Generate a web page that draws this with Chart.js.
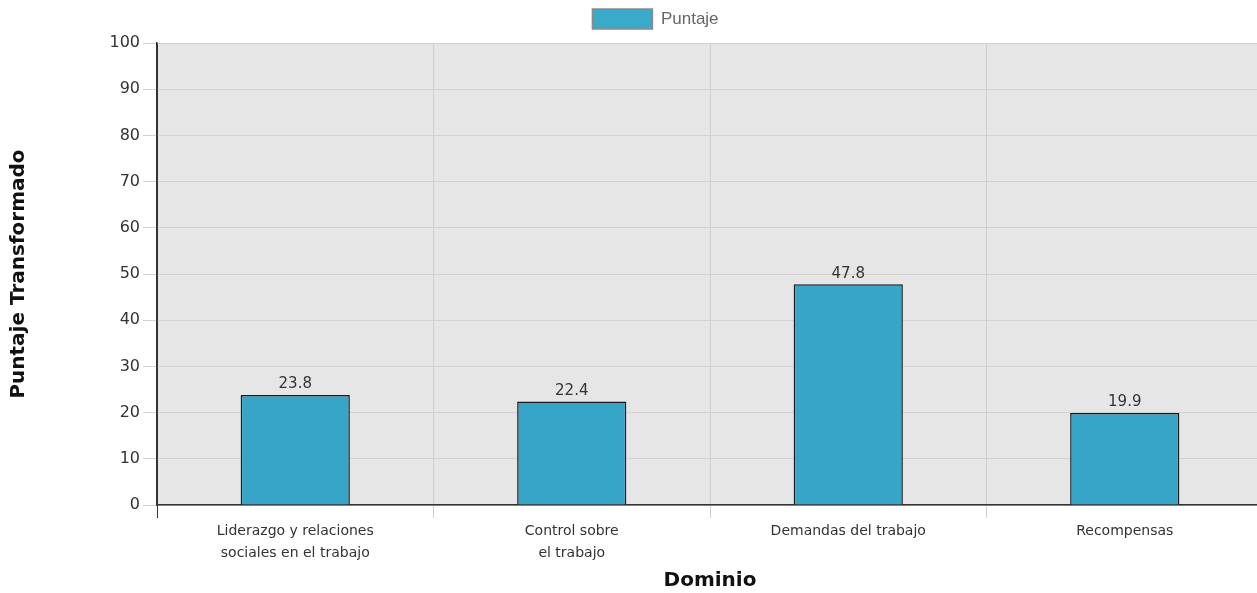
<!DOCTYPE html>
<html>
<head>
<meta charset="utf-8">
<script src="https://cdn.jsdelivr.net/npm/chart.js@4"></script>
<style>
  html, body { margin: 0; padding: 0; background: #ffffff; overflow: hidden; }
  #wrap { width: 1257px; height: 593px; position: relative; overflow: hidden; }
  #c { position: absolute; left: 0; top: 0; }
</style>
</head>
<body>
<div id="wrap"><canvas id="c" width="1263" height="593"></canvas></div>
<script>
const categories = [
  ["Liderazgo y relaciones", "sociales en el trabajo"],
  ["Control sobre", "el trabajo"],
  "Demandas del trabajo",
  "Recompensas"
];
const seriesName = "Puntaje";
const values = [23.8, 22.4, 47.8, 19.9];
const yTicks = [0, 10, 20, 30, 40, 50, 60, 70, 80, 90, 100];
const xTitle = "Dominio";
const yTitle = "Puntaje Transformado";

const plotBg = {
  id: 'plotBg',
  beforeDraw(chart) {
    const {ctx, chartArea: a} = chart;
    ctx.save();
    ctx.fillStyle = '#e6e6e6';
    ctx.fillRect(a.left, a.top, a.right - a.left, a.bottom - a.top);
    ctx.restore();
  }
};

const legendFix = {
  id: 'legendFix',
  beforeLayout(chart) {
    const lg = chart.legend;
    if (lg && !lg._patched) {
      const orig = lg.fit.bind(lg);
      lg.fit = function () { orig(); this.height += 4; };
      lg._patched = true;
    }
  },
  afterLayout(chart) {
    const lg = chart.legend;
    if (lg) { lg.left += 24; lg.right += 24; }
  }
};

const valueLabels = {
  id: 'valueLabels',
  afterDatasetsDraw(chart) {
    const {ctx} = chart;
    ctx.save();
    ctx.font = '15px "DejaVu Sans", Verdana, sans-serif';
    ctx.fillStyle = '#333333';
    ctx.textAlign = 'center';
    ctx.textBaseline = 'bottom';
    chart.data.datasets.forEach((ds, di) => {
      chart.getDatasetMeta(di).data.forEach((bar, i) => {
        ctx.fillText(ds.data[i].toFixed(1), bar.x, bar.y - 3);
      });
    });
    ctx.restore();
  }
};

new Chart(document.getElementById('c'), {
  type: 'bar',
  data: {
    labels: categories,
    datasets: [{
      label: seriesName,
      data: values,
      backgroundColor: '#37a5c7',
      borderColor: '#1c1c1c',
      borderWidth: 1.5,
      barPercentage: 0.395,
      categoryPercentage: 1.0
    }]
  },
  options: {
    responsive: false,
    animation: false,
    layout: { padding: 0 },
    plugins: {
      legend: {
        display: true,
        position: 'top',
        labels: {
          boxWidth: 60,
          boxHeight: 20,
          padding: 9,
          color: '#666666',
          font: { family: 'Arial, "Liberation Sans", sans-serif', size: 17 },
          generateLabels(chart) {
            const items = Chart.defaults.plugins.legend.labels.generateLabels(chart);
            items.forEach(it => {
              it.fillStyle = '#3aaacb';
              it.strokeStyle = '#8a8a8a';
              it.lineWidth = 1.5;
            });
            return items;
          }
        }
      },
      tooltip: { enabled: false }
    },
    scales: {
      x: {
        offset: true,
        grid: {
          offset: true,
          color: (c) => c.index === 0 ? '#333333' : '#cfcfcf',
          lineWidth: 1,
          tickLength: 13,
          drawTicks: true
        },
        border: { display: true, color: '#333333', width: 1.5 },
        ticks: {
          color: '#333333',
          padding: 2,
          maxRotation: 0,
          autoSkip: false,
          font: { family: '"DejaVu Sans", Verdana, sans-serif', size: 14, lineHeight: 1.6 }
        },
        title: {
          display: true,
          text: xTitle,
          color: '#111111',
          font: { family: '"DejaVu Sans", Verdana, sans-serif', size: 20, weight: 'bold' },
          padding: { top: 4, bottom: 0 }
        },
        afterFit(scale) { scale.height = 88; }
      },
      y: {
        min: 0,
        max: 100,
        afterBuildTicks(scale) { scale.ticks = yTicks.map(v => ({ value: v })); },
        grid: {
          color: '#d2d2d2',
          lineWidth: 1,
          tickLength: 14,
          tickColor: '#d2d2d2'
        },
        border: { display: true, color: '#333333', width: 1.5 },
        ticks: {
          color: '#333333',
          padding: 3,
          font: { family: '"DejaVu Sans", Verdana, sans-serif', size: 16 }
        },
        title: {
          display: true,
          text: yTitle,
          color: '#111111',
          font: { family: '"DejaVu Sans", Verdana, sans-serif', size: 20, weight: 'bold' },
          padding: { top: 7, bottom: 0 }
        },
        afterFit(scale) { scale.width = 157; }
      }
    }
  },
  plugins: [plotBg, legendFix, valueLabels]
});
</script>
</body>
</html>
